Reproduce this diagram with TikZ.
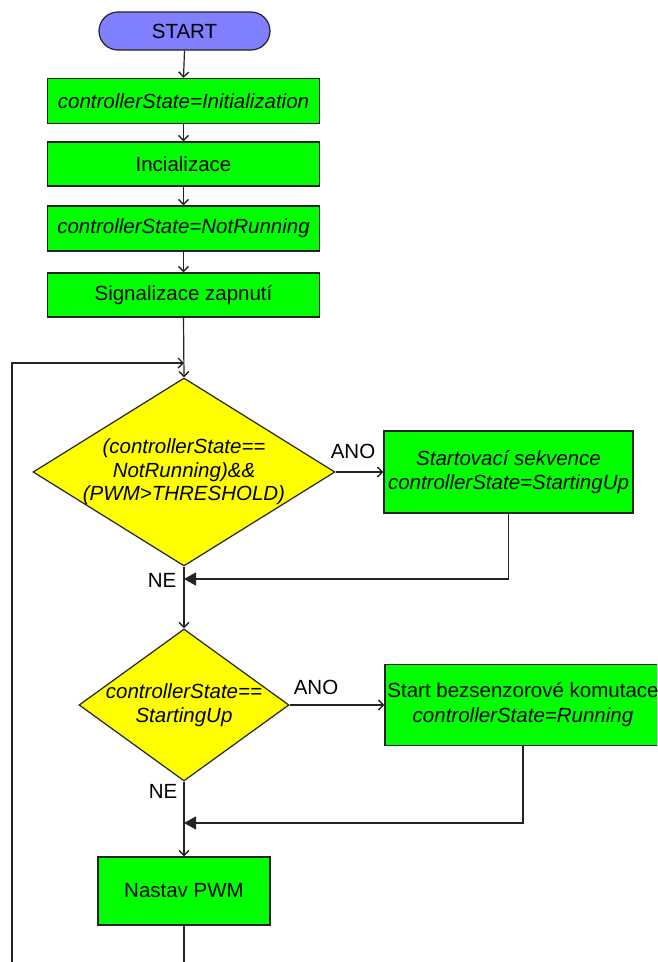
\documentclass[tikz,border=0pt]{standalone}
\usepackage{fontspec}
\setmainfont{Liberation Sans}
\usetikzlibrary{arrows.meta,shapes.geometric}
\definecolor{boxgreen}{RGB}{0,255,0}
\definecolor{decyellow}{RGB}{255,255,0}
\definecolor{termblue}{RGB}{128,128,255}
\definecolor{edge}{RGB}{35,35,35}
\newcommand{\chartfont}{\fontsize{20.5}{23.5}\selectfont}
\begin{document}
\begin{tikzpicture}[x=1pt,y=-1pt,
  font=\chartfont,
  every node/.style={inner sep=0pt},
  term/.style={draw=edge,line width=1.2pt,fill=termblue,rounded corners=19pt,
    minimum width=171pt,minimum height=38pt},
  proc/.style={draw=edge,line width=1.2pt,fill=boxgreen,align=center},
  procit/.style={proc,font=\chartfont\itshape},
  dec/.style={draw=edge,line width=1.2pt,fill=decyellow,shape=diamond},
  txt/.style={align=center,font=\chartfont\itshape},
  flow/.style={draw=edge,line width=1.2pt,-{Straight Barb[length=5pt,width=10pt,line width=1.4pt]}},
  merge/.style={draw=edge,line width=1.2pt,-{Triangle[length=12pt,width=13pt]}},
]
\useasboundingbox (0,0) rectangle (657,962);
\clip (0,0) rectangle (657,962);

% main column
\node[term] (start) at (184.5,31) {START};
\node[procit,minimum width=272pt,minimum height=45pt] (b1) at (183.5,101) {controllerState=Initialization};
\node[proc,minimum width=272pt,minimum height=44pt] (b2) at (183.5,164) {Incializace};
\node[procit,minimum width=272pt,minimum height=45pt] (b3) at (183.5,228.5) {controllerState=NotRunning};
\node[proc,minimum width=272pt,minimum height=44pt] (b4) at (183.5,295) {Signalizace zapnutí};

% first decision
\node[dec,minimum width=302pt,minimum height=188pt] (d1) at (184,472) {};
\node[txt] (d1t) at (184,472) {(controllerState==\\NotRunning)\&\&\\(PWM>THRESHOLD)};
\node[procit,minimum width=249pt,minimum height=82pt] (su) at (508.5,472) {Startovací sekvence\\controllerState=StartingUp};

% second decision
\node[dec,minimum width=210pt,minimum height=152pt] (d2) at (184,705) {};
\node[txt] (d2t) at (184,705) {controllerState==\\StartingUp};
\node[proc,minimum width=276pt,minimum height=81pt,font=\fontsize{20.5}{25}\selectfont]
  (b6) at (523,705) {Start bezsenzorové komutace\\\textit{controllerState=Running}};

\node[proc,minimum width=172pt,minimum height=68pt] (b7) at (184,891) {Nastav PWM};

% branch labels
\node (ano1) at (353,451) {ANO};
\node (ne1) at (162,580) {NE};
\node (ano2) at (316,687) {ANO};
\node (ne2) at (163,791) {NE};

% junction points
\coordinate (j1) at (184,363);
\coordinate (m1) at (184,579);
\coordinate (m2) at (184,823);
\coordinate (c1) at (184,990);
\coordinate (c2) at (12,990);
\coordinate (c3) at (12,363);

% connectors
\draw[flow] (start.south) -- (b1.north);
\draw[flow] (b1.south) -- (b2.north);
\draw[flow] (b2.south) -- (b3.north);
\draw[flow] (b3.south) -- (b4.north);
\draw[flow] (b4.south) -- (d1.north);
\draw[flow] (d1.east) -- (su.west);
\draw[merge] (su.south) |- (m1);
\draw[flow] (d1.south) -- (d2.north);
\draw[flow] (d2.east) -- (b6.west);
\draw[merge] (b6.south) |- (m2);
\draw[flow] (d2.south) -- (b7.north);
\draw[flow] (b7.south) -- (c1) -- (c2) -- (c3) -- (j1);
\end{tikzpicture}
\end{document}
